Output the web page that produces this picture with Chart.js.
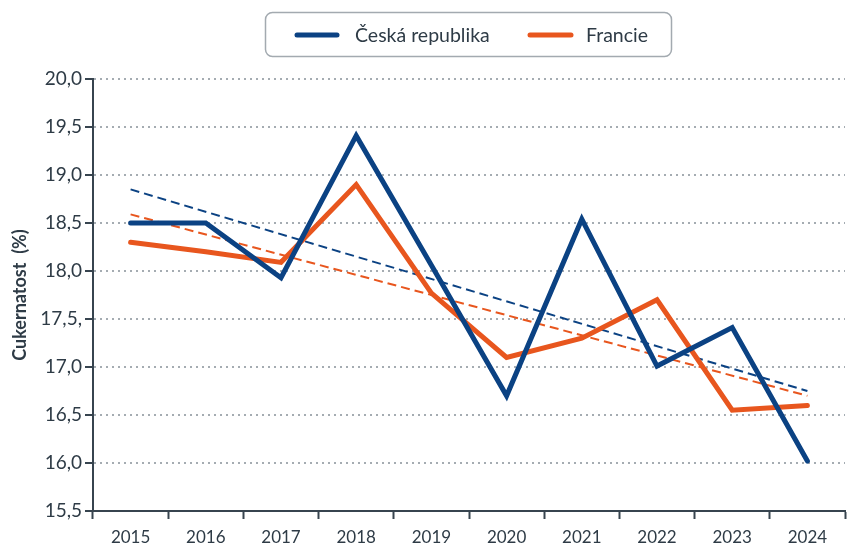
<!DOCTYPE html>
<html><head><meta charset="utf-8">
<script src="https://cdn.jsdelivr.net/npm/chart.js@4.4.1/dist/chart.umd.min.js"></script>
<style>html,body{margin:0;padding:0;background:#fff}#wrap{width:849px;height:545px;position:relative}</style>
</head><body><div id="wrap"><canvas id="c"></canvas></div>
<script>
const years = ['2015','2016','2017','2018','2019','2020','2021','2022','2023','2024'];
const czValues = [18.5, 18.5, 17.93, 19.41, 18.06, 16.70, 18.54, 17.01, 17.41, 16.02];
const frValues = [18.30, 18.20, 18.09, 18.90, 17.77, 17.10, 17.30, 17.70, 16.55, 16.60];
const czTrend = [18.85, null, null, null, null, null, null, null, null, 16.75];
const frTrend = [18.59, null, null, null, null, null, null, null, null, 16.70];
const yTickLabels = ['15,5','16,0','16,5','17,0','17,5,','18,0','18,5','19,0','19,5','20,0'];
const seriesNames = ['Česká republika', 'Francie'];
const yTitle = 'Cukernatost  (%)';

const CZ = '#0b4283';
const FR = '#e8561e';
const AXIS = '#37444f';
const TEXT = '#2e3b46';
const GRID = '#a5acb2';

const boxLegend = {
  id: 'boxLegend',
  afterDraw(chart) {
    const ctx = chart.ctx;
    ctx.save();
    ctx.strokeStyle = '#a3aab0';
    ctx.lineWidth = 1.5;
    ctx.beginPath();
    ctx.roundRect(265.5, 12.5, 406, 44, 7);
    ctx.stroke();
    const items = [
      {name: seriesNames[0], color: CZ, x1: 297, x2: 337, tx: 355},
      {name: seriesNames[1], color: FR, x1: 530, x2: 571, tx: 586}
    ];
    ctx.font = '19.5px Lato';
    ctx.textBaseline = 'middle';
    ctx.textAlign = 'left';
    items.forEach(it => {
      ctx.strokeStyle = it.color;
      ctx.lineWidth = 5;
      ctx.lineCap = 'round';
      ctx.beginPath();
      ctx.moveTo(it.x1, 35);
      ctx.lineTo(it.x2, 35);
      ctx.stroke();
      ctx.fillStyle = TEXT;
      ctx.fillText(it.name, it.tx, 36);
    });
    ctx.restore();
  }
};

new Chart(document.getElementById('c'), {
  type: 'line',
  data: {
    labels: years,
    datasets: [
      {label: seriesNames[0], data: czValues, borderColor: CZ, borderWidth: 5, pointRadius: 0, tension: 0, borderJoinStyle: 'miter', borderCapStyle: 'round', order: 1},
      {label: seriesNames[1], data: frValues, borderColor: FR, borderWidth: 5, pointRadius: 0, tension: 0, borderJoinStyle: 'miter', borderCapStyle: 'round', order: 2},
      {label: 'trend CZ', data: czTrend, borderColor: CZ, borderWidth: 2, borderDash: [9, 5], pointRadius: 0, spanGaps: true, order: 3},
      {label: 'trend FR', data: frTrend, borderColor: FR, borderWidth: 2, borderDash: [9, 5], pointRadius: 0, spanGaps: true, order: 4}
    ]
  },
  options: {
    responsive: true,
    maintainAspectRatio: false,
    animation: false,
    devicePixelRatio: 1,
    layout: {padding: {top: 79, left: 0, right: 4, bottom: 0}},
    plugins: {legend: {display: false}, tooltip: {enabled: false}},
    scales: {
      x: {
        offset: true,
        grid: {offset: true, drawOnChartArea: false, drawTicks: true, tickLength: 8, tickColor: AXIS, tickWidth: 2},
        border: {display: true, color: AXIS, width: 2},
        ticks: {color: TEXT, font: {family: 'Lato', size: 17}, padding: 8, maxRotation: 0, autoSkip: false},
        afterFit: s => { s.height = 34; }
      },
      y: {
        min: 15.5, max: 20,
        ticks: {stepSize: 0.5, color: TEXT, font: {family: 'Lato', size: 19}, padding: 3,
          callback: (v, i) => yTickLabels[i]},
        grid: {color: c => (c.tick && c.tick.value === 15.5) ? 'rgba(0,0,0,0)' : GRID, lineWidth: 2,
          drawTicks: true, tickLength: 8, tickColor: AXIS, tickWidth: 2},
        border: {display: true, color: AXIS, width: 2, dash: [2, 4]},
        title: {display: true, text: yTitle, color: TEXT, font: {family: 'Lato', size: 18, weight: 'bold'}, padding: {top: 9, bottom: 0}},
        afterFit: s => { s.width = 93; }
      }
    }
  },
  plugins: [boxLegend]
});
</script></body></html>
